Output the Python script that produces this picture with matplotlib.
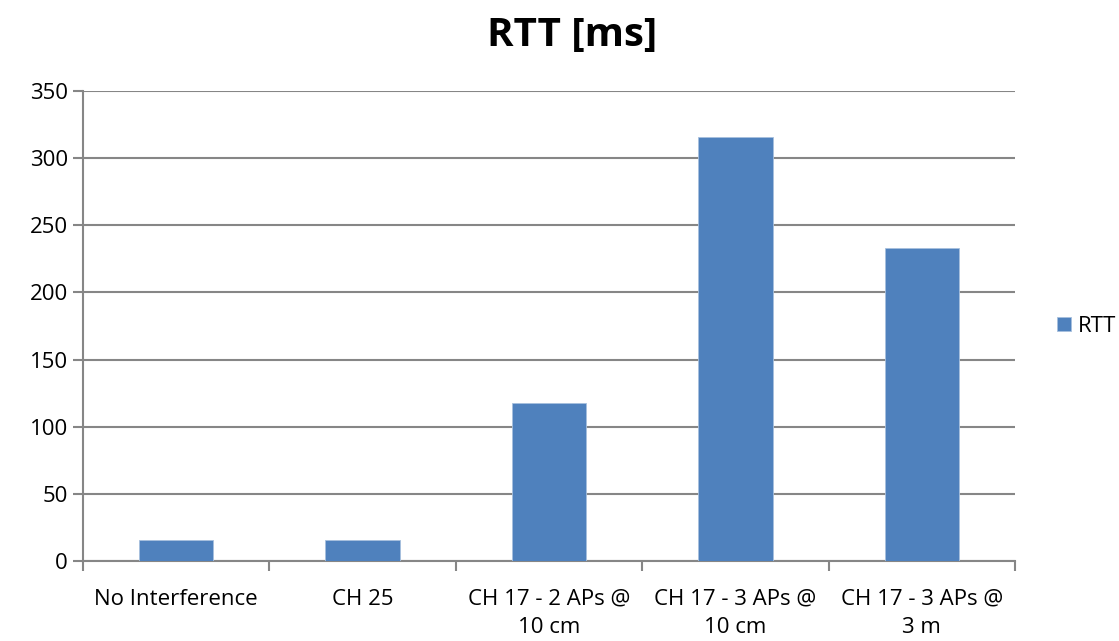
import numpy as np
import matplotlib
matplotlib.use("Agg")
import matplotlib.pyplot as plt

plt.rcParams['font.family'] = ['Open Sans', 'DejaVu Sans']

categories = ["No Interference", "CH 25", "CH 17 - 2 APs @\n10 cm",
              "CH 17 - 3 APs @\n10 cm", "CH 17 - 3 APs @\n3 m"]
rtt = [15.5, 15.5, 117.5, 316, 233]
yticks = [0, 50, 100, 150, 200, 250, 300, 350]

bar_color = "#4F81BD"
grid_color = "#868686"
fs = 16

fig = plt.figure(figsize=(11.19, 6.41), dpi=100)
ax = fig.add_axes([83 / 1119, 1 - 561 / 641, 932 / 1119, 470 / 641])

x = np.arange(len(categories))
ax.bar(x, rtt, width=0.4, color=bar_color, edgecolor="#A7C0DE", linewidth=0.6,
       zorder=3, label="RTT")

ax.set_xlim(-0.5, len(categories) - 0.5)
ax.set_ylim(0, 350)
ax.set_yticks(yticks)
ax.set_yticklabels([str(v) for v in yticks], fontsize=fs)
ax.yaxis.grid(True, color=grid_color, linewidth=1.5, zorder=0)
ax.tick_params(axis='y', length=7, width=1.5, color=grid_color, pad=4)

# categories labelled at centres, tick marks on the boundaries
ax.set_xticks(x)
ax.set_xticklabels(categories, fontsize=fs, linespacing=1.45)
ax.tick_params(axis='x', length=0, pad=20)
ax.set_xticks(np.arange(len(categories) + 1) - 0.5, minor=True)
ax.tick_params(axis='x', which='minor', length=7, width=1.5, color=grid_color)

for side in ["top", "right"]:
    ax.spines[side].set_visible(False)
for side in ["left", "bottom"]:
    ax.spines[side].set_color(grid_color)
    ax.spines[side].set_linewidth(1.5)

fig.text(572 / 1119, 1 - 35 / 641, "RTT [ms]", fontsize=29, fontweight="bold",
         ha="center", va="center")

ax.legend(loc="center left", bbox_to_anchor=(1.036, 0.5), frameon=False,
          fontsize=fs, handlelength=0.6, handleheight=0.6, handletextpad=0.3,
          borderaxespad=0)

fig.savefig("out.png", dpi=100)
